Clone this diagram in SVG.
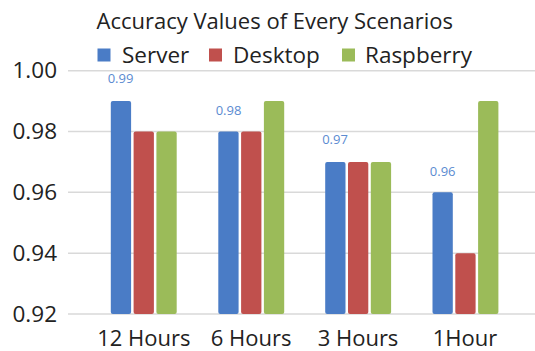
<svg xmlns="http://www.w3.org/2000/svg" width="535" height="351" viewBox="0 0 535 351">
  <style>
    text { font-family: "Open Sans", "Liberation Sans", sans-serif; fill: #222222; }
    .title { font-size: 22px; }
    .legend { font-size: 22.5px; }
    .ytick { font-size: 22.5px; text-anchor: end; }
    .xtick { font-size: 22px; text-anchor: middle; }
    .dlabel { font-size: 13px; text-anchor: middle; fill: #5B8BD1; }
    .grid { stroke: #D9D9D9; stroke-width: 1.5; }
    .server { fill: #4A7CC6; }
    .desktop { fill: #C0504D; }
    .raspberry { fill: #9BBB59; }
  </style>

  <!-- title -->
  <text id="title" class="title" x="96.5" y="28.5">Accuracy Values of Every Scenarios</text>

  <!-- legend -->
  <g id="legend">
    <rect class="server" x="97.5" y="48.5" width="13" height="13"/>
    <text class="legend" x="122" y="63">Server</text>
    <rect class="desktop" x="209" y="48.5" width="13" height="13"/>
    <text class="legend" x="233" y="63">Desktop</text>
    <rect class="raspberry" x="342" y="48.5" width="13" height="13"/>
    <text class="legend" x="365" y="63">Raspberry</text>
  </g>

  <!-- horizontal gridlines, 0.92 to 1.00 -->
  <g id="gridlines">
    <line class="grid" x1="68" y1="70.7" x2="535" y2="70.7"/>
    <line class="grid" x1="68" y1="131.5" x2="535" y2="131.5"/>
    <line class="grid" x1="68" y1="192.3" x2="535" y2="192.3"/>
    <line class="grid" x1="68" y1="253.2" x2="535" y2="253.2"/>
    <line class="grid" x1="68" y1="314" x2="535" y2="314"/>
  </g>

  <!-- value axis labels -->
  <g id="y-axis">
    <text class="ytick" x="57" y="78.2">1.00</text>
    <text class="ytick" x="57" y="139">0.98</text>
    <text class="ytick" x="57" y="199.8">0.96</text>
    <text class="ytick" x="57" y="260.7">0.94</text>
    <text class="ytick" x="57" y="321.5">0.92</text>
  </g>

  <!-- bars: y = 314 - (v - 0.92) * 3040 -->
  <g id="cat-12h">
    <rect class="server" x="110.8" y="101.1" width="20.3" height="212.9" rx="2"/>
    <rect class="desktop" x="133.6" y="131.5" width="20.3" height="182.5" rx="2"/>
    <rect class="raspberry" x="156.4" y="131.5" width="20.3" height="182.5" rx="2"/>
    <text class="dlabel" x="120.5" y="83.3">0.99</text>
    <text class="xtick" x="143.8" y="345.5">12 Hours</text>
  </g>
  <g id="cat-6h">
    <rect class="server" x="218.3" y="131.5" width="20.3" height="182.5" rx="2"/>
    <rect class="desktop" x="241.1" y="131.5" width="20.3" height="182.5" rx="2"/>
    <rect class="raspberry" x="263.9" y="101.1" width="20.3" height="212.9" rx="2"/>
    <text class="dlabel" x="228.5" y="115">0.98</text>
    <text class="xtick" x="251.2" y="345.5">6 Hours</text>
  </g>
  <g id="cat-3h">
    <rect class="server" x="325.2" y="161.9" width="20.3" height="152.1" rx="2"/>
    <rect class="desktop" x="348" y="161.9" width="20.3" height="152.1" rx="2"/>
    <rect class="raspberry" x="370.8" y="161.9" width="20.3" height="152.1" rx="2"/>
    <text class="dlabel" x="335" y="144.3">0.97</text>
    <text class="xtick" x="358" y="345.5">3 Hours</text>
  </g>
  <g id="cat-1h">
    <rect class="server" x="432.5" y="192.3" width="20.3" height="121.7" rx="2"/>
    <rect class="desktop" x="455.3" y="253.2" width="20.3" height="60.8" rx="2"/>
    <rect class="raspberry" x="478.1" y="101.1" width="20.3" height="212.9" rx="2"/>
    <text class="dlabel" x="442.7" y="176">0.96</text>
    <text class="xtick" x="465" y="345.5">1Hour</text>
  </g>
</svg>
